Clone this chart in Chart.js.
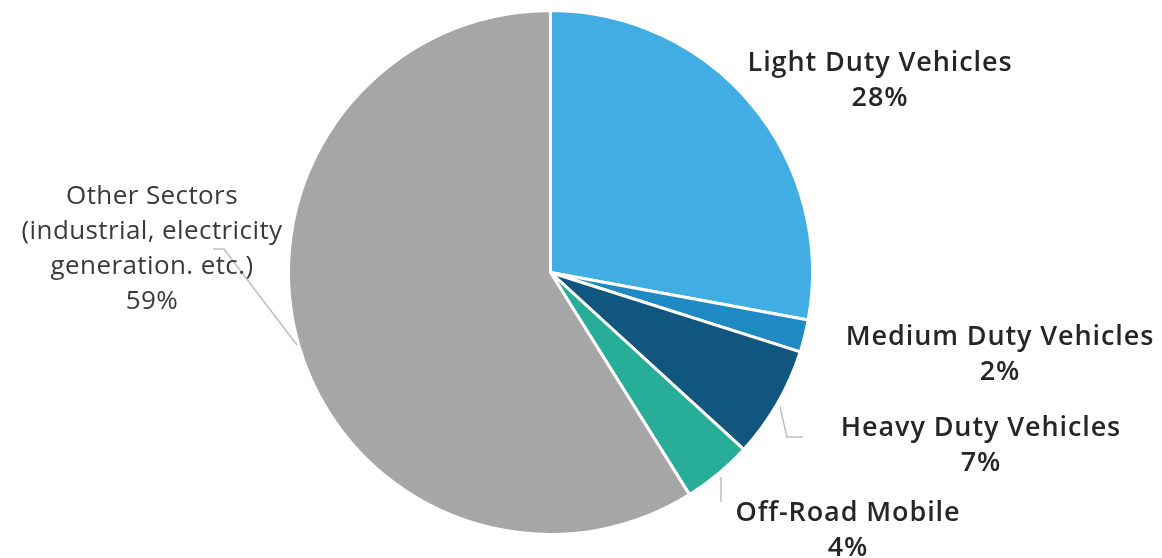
<!DOCTYPE html>
<html>
<head>
<meta charset="utf-8">
<script src="https://cdn.jsdelivr.net/npm/chart.js@4/dist/chart.umd.min.js"></script>
<style>
html,body{margin:0;padding:0;background:#fff;}
#wrap{width:1162px;height:558px;position:relative;}
</style>
</head>
<body>
<div id="wrap"><canvas id="c" width="1162" height="558"></canvas></div>
<script>
const categories = ["Light Duty Vehicles", "Medium Duty Vehicles", "Heavy Duty Vehicles", "Off-Road Mobile", "Other Sectors"];
const labelLines = [
  ["Light Duty Vehicles"],
  ["Medium Duty Vehicles"],
  ["Heavy Duty Vehicles"],
  ["Off-Road Mobile"],
  ["Other Sectors", "(industrial, electricity", "generation. etc.)"]
];
const percentLabels = ["28%", "2%", "7%", "4%", "59%"];
const values = [27.9, 2.0, 6.9, 4.3, 58.9];
const colors = ["#42ADE3", "#1F89C3", "#11567F", "#27AD98", "#A6A6A6"];

// label layout (pixel placement of text blocks and leader lines)
const labelLayout = [
  {x: 880, y: 63, bold: true},
  {x: 1000, y: 337, bold: true},
  {x: 981, y: 428, bold: true},
  {x: 848, y: 513, bold: true},
  {x: 152, y: 197, bold: false}
];
const leaders = [
  null,
  null,
  [[780, 407], [787, 437], [803, 437]],
  [[721, 477], [721, 502]],
  [[213, 249], [224, 249], [297, 345]]
];

const labelPlugin = {
  id: 'sliceLabels',
  afterDatasetsDraw(chart) {
    const ctx = chart.ctx;
    ctx.save();
    ctx.strokeStyle = '#BFBFBF';
    ctx.lineWidth = 1.5;
    leaders.forEach(l => {
      if (!l) return;
      ctx.beginPath();
      ctx.moveTo(l[0][0], l[0][1]);
      for (let i = 1; i < l.length; i++) ctx.lineTo(l[i][0], l[i][1]);
      ctx.stroke();
    });
    ctx.textAlign = 'center';
    ctx.textBaseline = 'middle';
    categories.forEach((c, i) => {
      const lay = labelLayout[i];
      const lines = labelLines[i].concat([percentLabels[i]]);
      ctx.font = (lay.bold ? '600 27px' : '400 26px') + ' "Open Sans", sans-serif';
      ctx.letterSpacing = lay.bold ? '0.9px' : '0.4px';
      ctx.fillStyle = lay.bold ? '#262626' : '#3A3A3A';
      const lh = lay.bold ? 35.5 : 35;
      lines.forEach((t, k) => ctx.fillText(t, lay.x, lay.y + k * lh));
    });
    ctx.restore();
  }
};

new Chart(document.getElementById('c'), {
  type: 'pie',
  data: {
    labels: categories,
    datasets: [{
      data: values,
      backgroundColor: colors,
      borderColor: '#FFFFFF',
      borderWidth: 3
    }]
  },
  options: {
    responsive: false,
    animation: false,
    layout: {padding: {left: 287, right: 348, top: 9, bottom: 22}},
    plugins: {legend: {display: false}, tooltip: {enabled: false}}
  },
  plugins: [labelPlugin]
});
</script>
</body>
</html>
